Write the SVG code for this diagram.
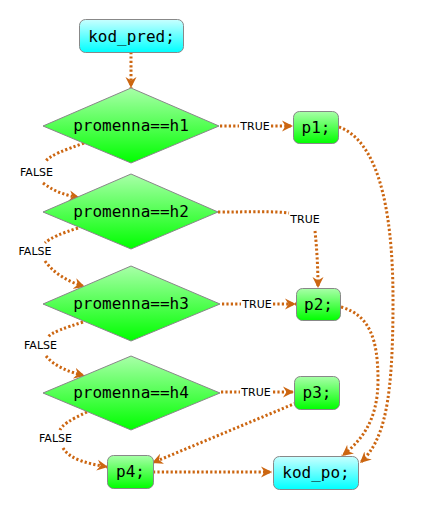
<svg xmlns="http://www.w3.org/2000/svg" width="427" height="514" viewBox="0 0 427 514">
<style>
.mono{font-family:"DejaVu Sans Mono","Liberation Mono",monospace;font-size:16px;fill:#000;text-anchor:middle}
.lbl{font-family:"DejaVu Sans","Liberation Sans",sans-serif;font-size:11px;fill:#000;text-anchor:middle}
.e{fill:none;stroke:#cc6611;stroke-width:3;stroke-dasharray:2.2 2.2}
.g{fill:url(#gg);stroke:#888;stroke-width:1}
.c{fill:url(#gc);stroke:#888;stroke-width:1}
</style>
<defs>
<linearGradient id="gg" x1="0" y1="0" x2="0" y2="1"><stop offset="0" stop-color="#a8ffa8"/><stop offset="1" stop-color="#00ff00"/></linearGradient>
<linearGradient id="gc" x1="0" y1="0" x2="0" y2="1"><stop offset="0" stop-color="#c8ffff"/><stop offset="1" stop-color="#00ffff"/></linearGradient>
<marker id="a" markerUnits="userSpaceOnUse" markerWidth="12" markerHeight="12" refX="11" refY="6" orient="auto"><path d="M0,0.5 L11,6 L0,11.5 L3.5,6 z" fill="#cc6611"/></marker>
</defs>
<g id="connectors">
<path class="e" d="M131,52 L131,88" marker-end="url(#a)"/>
<path class="e" d="M220,126 L239,126"/>
<path class="e" d="M271,126 L293,126" marker-end="url(#a)"/>
<path class="e" d="M218,212 C250,212 275,211 289,213"/>
<path class="e" d="M315,231 C317,250 318,270 318,288" marker-end="url(#a)"/>
<path class="e" d="M222,304 L241,304"/>
<path class="e" d="M273,304 L296,304" marker-end="url(#a)"/>
<path class="e" d="M221,392 L240,392"/>
<path class="e" d="M273,392 L294,392" marker-end="url(#a)"/>
<path class="e" d="M339,127 C375,140 393,200 393,300 C393,400 385,440 360,463" marker-end="url(#a)"/>
<path class="e" d="M341,307 C370,315 378,340 378,380 C378,420 362,440 342,456" marker-end="url(#a)"/>
<path class="e" d="M296,403 L152,463" marker-end="url(#a)"/>
<path class="e" d="M153,472 L272,472" marker-end="url(#a)"/>
<path class="e" d="M84,143 C65,150 50,155 45,162"/>
<path class="e" d="M43,183 C55,192 65,195 80,198" marker-end="url(#a)"/>
<path class="e" d="M78,228 C62,233 50,238 45,243"/>
<path class="e" d="M45,261 C55,275 70,282 85,287" marker-end="url(#a)"/>
<path class="e" d="M83,322 C65,328 52,332 48,337"/>
<path class="e" d="M46,356 C55,367 70,372 85,376" marker-end="url(#a)"/>
<path class="e" d="M87,412 C70,420 62,425 60,430"/>
<path class="e" d="M63,448 C70,460 90,464 108,467" marker-end="url(#a)"/>
<text class="lbl" x="255" y="130">TRUE</text>
<text class="lbl" x="305" y="223">TRUE</text>
<text class="lbl" x="257" y="308">TRUE</text>
<text class="lbl" x="256" y="396">TRUE</text>
<text class="lbl" x="36.5" y="176">FALSE</text>
<text class="lbl" x="35" y="255">FALSE</text>
<text class="lbl" x="40.5" y="349">FALSE</text>
<text class="lbl" x="55.5" y="442">FALSE</text>
</g>
<g id="kod_pred"><rect class="c" x="79.5" y="19.5" width="104" height="33" rx="6"/><text class="mono" x="131.5" y="42">kod_pred;</text></g>
<g id="d1"><polygon class="g" points="131,88 219,126 131,163 43,126"/><text class="mono" x="131" y="131">promenna==h1</text></g>
<g id="d2"><polygon class="g" points="131,174 218,212 131,249 43,212"/><text class="mono" x="131" y="217">promenna==h2</text></g>
<g id="d3"><polygon class="g" points="131,266 220,304 131,341 43,304"/><text class="mono" x="131" y="309">promenna==h3</text></g>
<g id="d4"><polygon class="g" points="131,356 220,393 131,430 43,393"/><text class="mono" x="131" y="398">promenna==h4</text></g>
<g id="p1"><rect class="g" x="293.5" y="111.5" width="45" height="32" rx="6"/><text class="mono" x="316" y="133">p1;</text></g>
<g id="p2"><rect class="g" x="296.5" y="288.5" width="44" height="32" rx="6"/><text class="mono" x="318.5" y="310">p2;</text></g>
<g id="p3"><rect class="g" x="294.5" y="376.5" width="45" height="33" rx="6"/><text class="mono" x="317" y="398">p3;</text></g>
<g id="p4"><rect class="g" x="107.5" y="455.5" width="46" height="33" rx="6"/><text class="mono" x="130.5" y="477">p4;</text></g>
<g id="kod_po"><rect class="c" x="273.5" y="456.5" width="85" height="33" rx="6"/><text class="mono" x="316" y="478">kod_po;</text></g>
</svg>
